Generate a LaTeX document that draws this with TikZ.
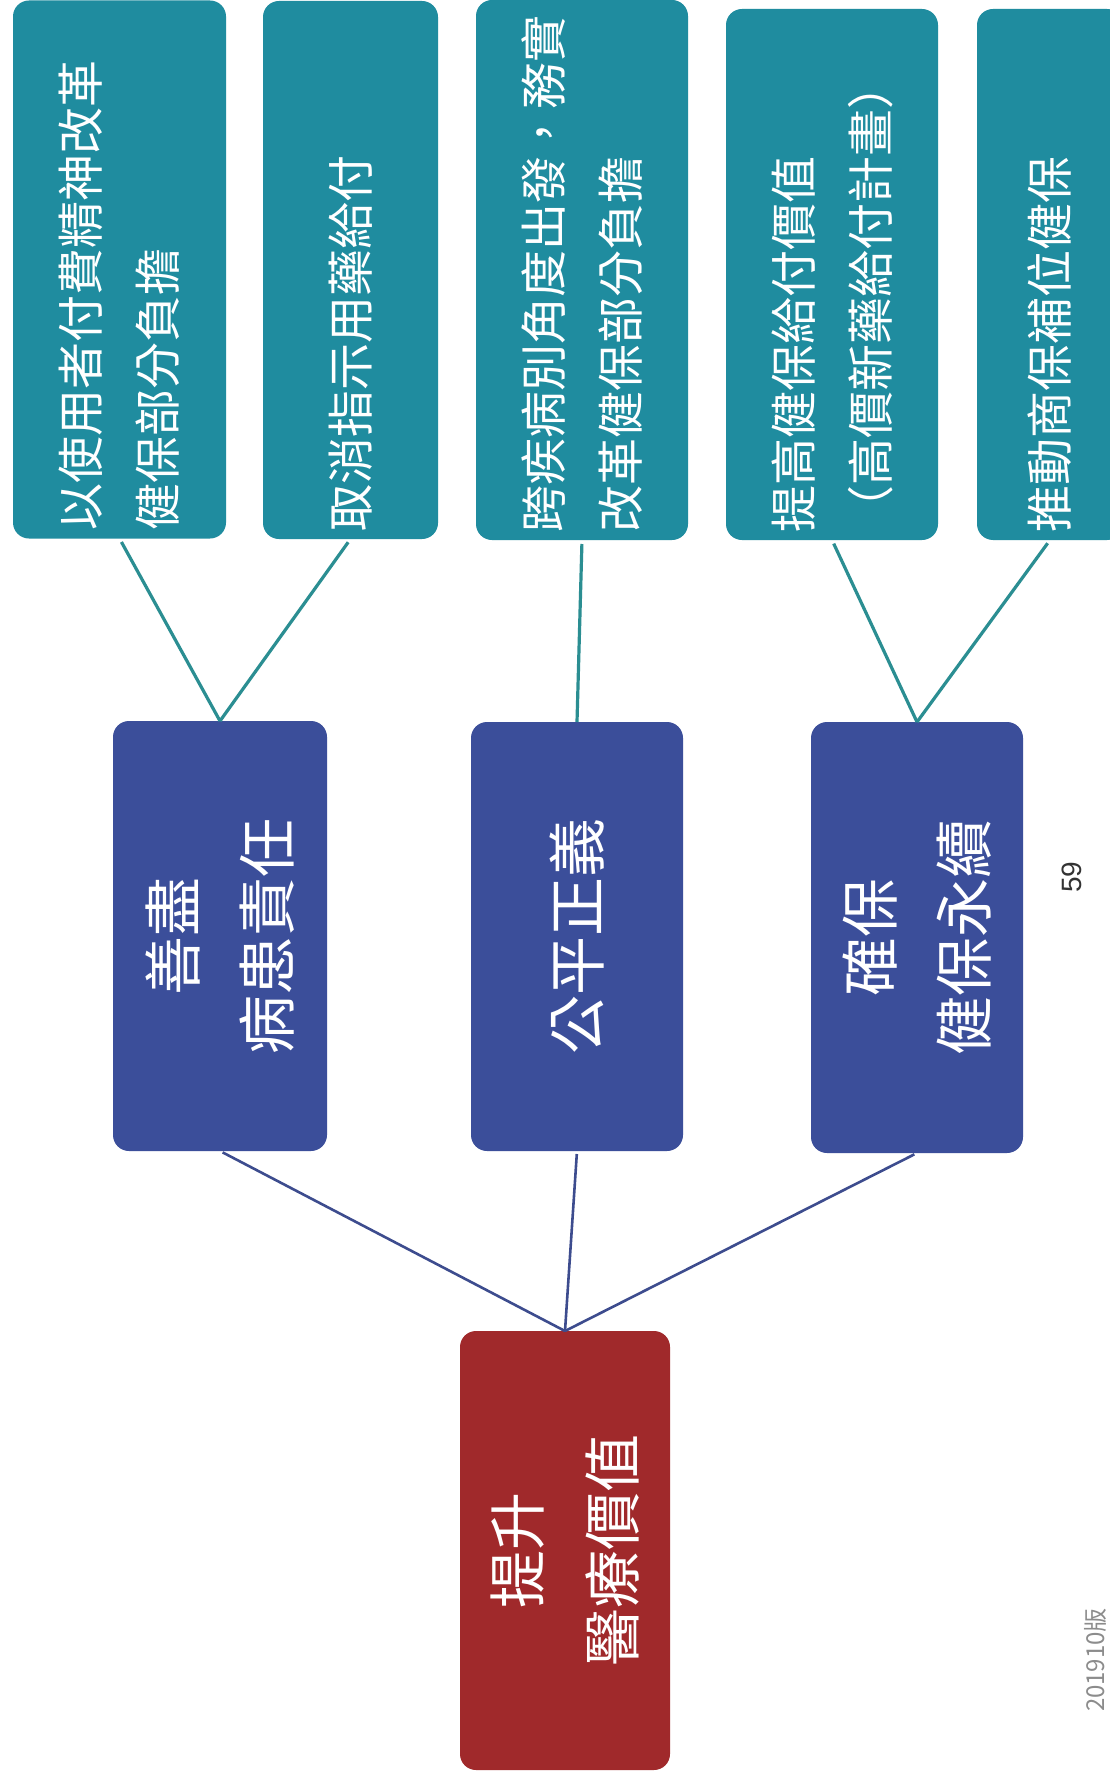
\documentclass[tikz,border=0pt]{standalone}
\usepackage{fontspec}
\setmainfont{Liberation Sans}
\newfontfamily\cjk[Script=CJK, Language=Chinese Traditional]{Noto Sans CJK TC}
\definecolor{tealbox}{HTML}{1F8C9F}
\definecolor{bluebox}{HTML}{3B4E9A}
\definecolor{redbox}{HTML}{A0292B}
\definecolor{tealline}{HTML}{2B8E92}
\definecolor{blueline}{HTML}{3D4C8E}
\begin{document}
\begin{tikzpicture}[x=1pt,y=-1pt,
  card/.style={rotate=90, rounded corners=16pt, text=white, inner sep=0pt, outer sep=0pt},
  leaf/.style={card, fill=tealbox, align=left, font=\cjk\fontsize{47}{77}\selectfont},
  mid/.style={card, fill=bluebox, align=center, font=\cjk\fontsize{59}{94}\selectfont},
  rootbox/.style={card, fill=redbox, align=center, font=\cjk\fontsize{58}{95}\selectfont},
  tline/.style={draw=tealline, line width=3.2pt, shorten <=4pt},
  bline/.style={draw=blueline, line width=2.6pt, shorten <=3pt},
  pagenote/.style={rotate=90, inner sep=0pt}]
\fill[white] (0,0) rectangle (1110,1776);
\useasboundingbox (0,0) rectangle (1110,1776);

% top row (teal)
\node[leaf, minimum width=538pt, minimum height=213pt, text width=522pt] (t1) at (119.5,269.5) {以使用者付費精神改革\\健保部分負擔};
\node[leaf, minimum width=538pt, minimum height=175pt, text width=522pt] (t2) at (350.5,270) {取消指示用藥給付};
\node[leaf, minimum width=540pt, minimum height=212pt, text width=524pt] (t3) at (582,270) {跨疾病別角度出發，務實\\改革健保部分負擔};
\node[leaf, minimum width=531pt, minimum height=212pt, text width=515pt] (t4) at (832,274.5) {提高健保給付價值\\（高價新藥給付計畫）};
\node[leaf, minimum width=531pt, minimum height=146pt, text width=515pt] (t5) at (1050,274.5) {推動商保補位健保};

% middle row (blue)
\node[mid, minimum width=430pt, minimum height=214pt] (b1) at (220,936) {善盡\\病患責任};
\node[mid, minimum width=429pt, minimum height=212pt] (b2) at (577,936.5) {公平正義};
\node[mid, minimum width=431pt, minimum height=212pt] (b3) at (917,937.5) {確保\\健保永續};

% root (red)
\node[rootbox, minimum width=439pt, minimum height=210pt] (r) at (565,1550.5) {提升\\醫療價值};

% connectors
\draw[tline] (t1.west) -- (b1.east);
\draw[tline] (t2.west) -- (b1.east);
\draw[tline] (t3.west) -- (b2.east);
\draw[tline] (t4.west) -- (b3.east);
\draw[tline] (t5.west) -- (b3.east);
\draw[bline] (b1.west) -- (r.east);
\draw[bline] (b2.west) -- (r.east);
\draw[bline] (b3.west) -- (r.east);

% page notes
\node[pagenote, font=\fontsize{28}{28}\selectfont, text=black!80] (pg) at (1072,877) {59};
\node[pagenote, font=\cjk\fontsize{24}{24}\selectfont, text=black!45] (ver) at (1095,1660) {201910版};
\end{tikzpicture}
\end{document}
